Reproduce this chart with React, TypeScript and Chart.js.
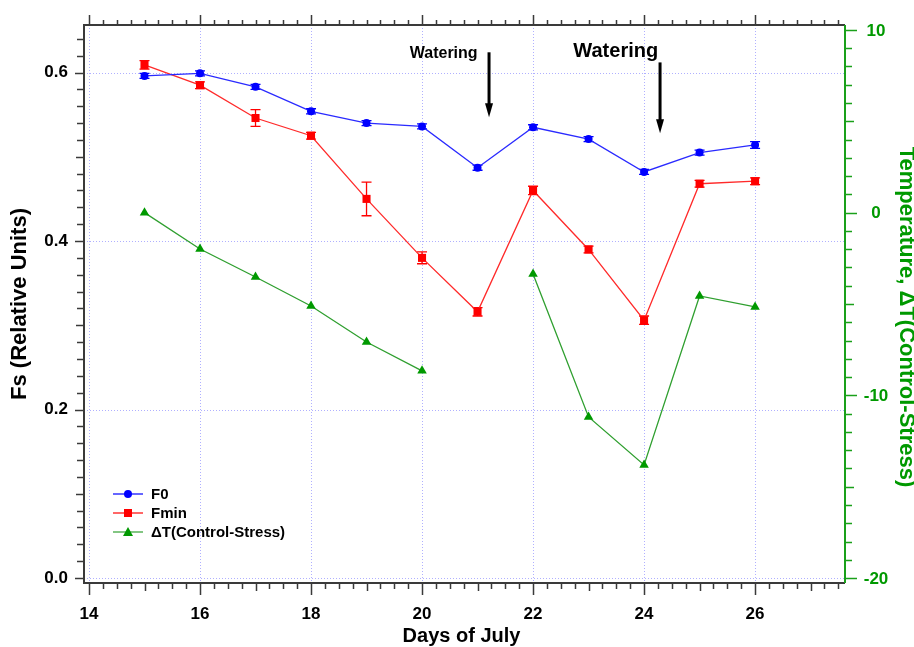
import React, { useEffect, useRef } from "react";
import { Chart, registerables } from "chart.js";

Chart.register(...registerables);

// ---- data ----
const days = [15, 16, 17, 18, 19, 20, 21, 22, 23, 24, 25, 26];
const f0Values = [0.596, 0.599, 0.583, 0.554, 0.54, 0.536, 0.487, 0.535, 0.521, 0.482, 0.505, 0.514];
const f0Errors = [0.003, 0.003, 0.003, 0.003, 0.003, 0.003, 0.003, 0.003, 0.003, 0.003, 0.003, 0.004];
const fminValues = [0.609, 0.585, 0.546, 0.525, 0.45, 0.38, 0.316, 0.46, 0.39, 0.306, 0.468, 0.471];
const fminErrors = [0.005, 0.004, 0.01, 0.004, 0.02, 0.007, 0.005, 0.005, 0.004, 0.005, 0.004, 0.004];
const deltaTValues: (number | null)[] = [0.0, -1.99, -3.52, -5.11, -7.08, -8.66, null, -3.36, -11.18, -13.81, -4.56, -5.16];

const xTickValues = [14, 16, 18, 20, 22, 24, 26];
const leftTickValues = [0.0, 0.2, 0.4, 0.6];
const rightTickValues = [-20, -10, 0, 10];

const xRange = [13.91, 27.62];
const leftRange = [-0.0059, 0.6564];
const rightRange = [-20.27, 10.27];

const xTitle = "Days of July";
const leftTitle = "Fs (Relative Units)";
const rightTitle = "Temperature, \u0394T(Control-Stress)";

// annotations (data coordinates: day, left-axis level)
const wateringTexts = ["Watering", "Watering"];
const wateringTextDays = [20.39, 23.49];
const wateringTextLevels = [0.617, 0.618];
const wateringArrowDays = [21.207, 24.288];
const wateringArrowTops = [0.624, 0.612];
const wateringArrowTips = [0.547, 0.528];

const legendLabels = ["F0", "Fmin", "\u0394T(Control-Stress)"];

const FONT = "'Liberation Sans', Arial, Helvetica, sans-serif";
const BLUE = "#0000ff";
const RED = "#ff0000";
const GREEN = "#009900";
const GREEN_LINE = "#2f9f2f";
const AXIS_GREEN = "#1aa01a";
const FRAME = "#3a3a3a";

function drawMarker(ctx: CanvasRenderingContext2D, style: string, x: number, y: number, color: string) {
  ctx.fillStyle = color;
  ctx.beginPath();
  if (style === "circle") {
    ctx.arc(x, y, 4, 0, Math.PI * 2);
  } else if (style === "rect") {
    ctx.rect(x - 4, y - 4, 8, 8);
  } else {
    ctx.moveTo(x, y - 5);
    ctx.lineTo(x + 5, y + 4);
    ctx.lineTo(x - 5, y + 4);
    ctx.closePath();
  }
  ctx.fill();
}

const noPad = (s: any) => {
  s.paddingTop = 0;
  s.paddingBottom = 0;
  s.paddingLeft = 0;
  s.paddingRight = 0;
};

const decorPlugin = {
  id: "decor",
  beforeDatasetsDraw(chart: any) {
    const { ctx, chartArea: a, scales } = chart;
    ctx.save();
    // grid
    ctx.strokeStyle = "rgba(150,150,255,0.75)";
    ctx.lineWidth = 1;
    ctx.setLineDash([1, 2]);
    xTickValues.forEach((v) => {
      const px = Math.round(scales.x.getPixelForValue(v)) + 0.5;
      ctx.beginPath();
      ctx.moveTo(px, a.top);
      ctx.lineTo(px, a.bottom);
      ctx.stroke();
    });
    leftTickValues.forEach((v) => {
      const py = Math.round(scales.y.getPixelForValue(v)) + 0.5;
      ctx.beginPath();
      ctx.moveTo(a.left, py);
      ctx.lineTo(a.right, py);
      ctx.stroke();
    });
    ctx.setLineDash([]);
    // error bars
    const drawErr = (vals: number[], errs: number[], color: string) => {
      ctx.strokeStyle = color;
      ctx.lineWidth = 1.3;
      vals.forEach((v, i) => {
        const px = scales.x.getPixelForValue(days[i]);
        const p1 = scales.y.getPixelForValue(v - errs[i]);
        const p2 = scales.y.getPixelForValue(v + errs[i]);
        ctx.beginPath();
        ctx.moveTo(px, p1);
        ctx.lineTo(px, p2);
        ctx.moveTo(px - 5, p1);
        ctx.lineTo(px + 5, p1);
        ctx.moveTo(px - 5, p2);
        ctx.lineTo(px + 5, p2);
        ctx.stroke();
      });
    };
    drawErr(f0Values, f0Errors, BLUE);
    drawErr(fminValues, fminErrors, RED);
    ctx.restore();
  },
  afterDraw(chart: any) {
    const { ctx, chartArea: a, scales } = chart;
    const sx = scales.x, sy = scales.y, sy2 = scales.y2;
    ctx.save();
    // ticks bottom/top
    ctx.lineWidth = 1.5;
    ctx.strokeStyle = FRAME;
    for (let k = Math.ceil(xRange[0] * 4); k <= Math.floor(xRange[1] * 4); k++) {
      const px = Math.round(sx.getPixelForValue(k / 4)) + 0.5;
      const len = k % 8 === 0 ? 12 : k % 4 === 0 ? 8 : 6;
      const lenTop = k % 8 === 0 ? 10 : 5;
      ctx.beginPath();
      ctx.moveTo(px, a.bottom);
      ctx.lineTo(px, a.bottom + len);
      ctx.moveTo(px, a.top);
      ctx.lineTo(px, a.top - lenTop);
      ctx.stroke();
    }
    // left ticks
    for (let k = Math.ceil(leftRange[0] * 50); k <= Math.floor(leftRange[1] * 50); k++) {
      const py = Math.round(sy.getPixelForValue(k / 50)) + 0.5;
      const len = k % 10 === 0 ? 9 : k % 5 === 0 ? 8 : 7;
      ctx.beginPath();
      ctx.moveTo(a.left, py);
      ctx.lineTo(a.left - len, py);
      ctx.stroke();
    }
    // frame
    ctx.lineWidth = 2;
    ctx.beginPath();
    ctx.moveTo(a.right, a.top);
    ctx.lineTo(a.left, a.top);
    ctx.lineTo(a.left, a.bottom);
    ctx.lineTo(a.right, a.bottom);
    ctx.stroke();
    // right axis (green)
    ctx.strokeStyle = AXIS_GREEN;
    ctx.beginPath();
    ctx.moveTo(a.right, a.top);
    ctx.lineTo(a.right, a.bottom);
    ctx.stroke();
    ctx.lineWidth = 1.5;
    for (let k = Math.ceil(rightRange[0]); k <= Math.floor(rightRange[1]); k++) {
      const py = Math.round(sy2.getPixelForValue(k)) + 0.5;
      const len = k % 10 === 0 ? 12 : k % 5 === 0 ? 9 : 7;
      ctx.beginPath();
      ctx.moveTo(a.right, py);
      ctx.lineTo(a.right + len, py);
      ctx.stroke();
    }
    // right tick labels (centered column)
    ctx.fillStyle = GREEN;
    ctx.font = `bold 17px ${FONT}`;
    ctx.textAlign = "center";
    ctx.textBaseline = "middle";
    rightTickValues.forEach((v) => {
      ctx.fillText(String(v), a.right + 31, sy2.getPixelForValue(v) + 1);
    });
    // axis titles
    const mid = (a.top + a.bottom) / 2;
    ctx.fillStyle = "#000";
    ctx.font = `bold 22px ${FONT}`;
    ctx.save();
    ctx.translate(20, mid);
    ctx.rotate(-Math.PI / 2);
    ctx.fillText(leftTitle, 0, 0);
    ctx.restore();
    ctx.fillStyle = GREEN;
    ctx.save();
    ctx.translate(906, mid + 13);
    ctx.rotate(Math.PI / 2);
    ctx.fillText(rightTitle, 0, 0);
    ctx.restore();
    ctx.fillStyle = "#000";
    ctx.font = `bold 20px ${FONT}`;
    ctx.fillText(xTitle, (a.left + a.right) / 2 - 3, 636);
    // annotations
    ctx.fillStyle = "#000";
    ctx.strokeStyle = "#000";
    ctx.textAlign = "center";
    ctx.textBaseline = "alphabetic";
    wateringTexts.forEach((t, i) => {
      ctx.font = `bold ${i === 0 ? 16 : 20}px ${FONT}`;
      ctx.fillText(t, sx.getPixelForValue(wateringTextDays[i]), sy.getPixelForValue(wateringTextLevels[i]));
      const ax = sx.getPixelForValue(wateringArrowDays[i]);
      const top = sy.getPixelForValue(wateringArrowTops[i]);
      const tip = sy.getPixelForValue(wateringArrowTips[i]);
      ctx.lineWidth = 3;
      ctx.beginPath();
      ctx.moveTo(ax, top);
      ctx.lineTo(ax, tip - 12);
      ctx.stroke();
      ctx.beginPath();
      ctx.moveTo(ax - 4, tip - 14);
      ctx.lineTo(ax + 4, tip - 14);
      ctx.lineTo(ax, tip);
      ctx.closePath();
      ctx.fill();
    });
    // legend
    const styles = ["circle", "rect", "triangle"];
    const lineColors = [BLUE, RED, GREEN_LINE];
    const markColors = [BLUE, RED, GREEN];
    ctx.font = `bold 15px ${FONT}`;
    ctx.textAlign = "left";
    ctx.textBaseline = "middle";
    legendLabels.forEach((lab, i) => {
      const y = a.bottom - 89 + i * 19;
      const x0 = a.left + 29;
      ctx.strokeStyle = lineColors[i];
      ctx.lineWidth = 1.2;
      ctx.beginPath();
      ctx.moveTo(x0, y);
      ctx.lineTo(x0 + 30, y);
      ctx.stroke();
      drawMarker(ctx, styles[i], x0 + 15, y, markColors[i]);
      ctx.fillStyle = "#000";
      ctx.fillText(lab, x0 + 38, y + 1);
    });
    ctx.restore();
  },
};

export default function App() {
  const ref = useRef<HTMLCanvasElement | null>(null);
  useEffect(() => {
    document.body.style.margin = "0";
    const canvas = ref.current;
    if (!canvas) return;
    const tickFont = { family: FONT, size: 17, weight: "bold" as const };
    const chart = new Chart(canvas, {
      type: "line",
      data: {
        datasets: [
          {
            label: "F0",
            data: days.map((d, i) => ({ x: d, y: f0Values[i] })),
            yAxisID: "y",
            borderColor: "#2a2aff",
            backgroundColor: BLUE,
            borderWidth: 1.3,
            pointStyle: "circle",
            pointRadius: 4,
            pointBorderWidth: 0,
          },
          {
            label: "Fmin",
            data: days.map((d, i) => ({ x: d, y: fminValues[i] })),
            yAxisID: "y",
            borderColor: "#ff2a2a",
            backgroundColor: RED,
            borderWidth: 1.3,
            pointStyle: "rect",
            pointRadius: 5.7,
            pointBorderWidth: 0,
          },
          {
            label: "\u0394T(Control-Stress)",
            data: days.map((d, i) => ({ x: d, y: deltaTValues[i] })),
            yAxisID: "y2",
            borderColor: GREEN_LINE,
            backgroundColor: GREEN,
            borderWidth: 1.3,
            pointStyle: "triangle",
            pointRadius: 5.5,
            pointBorderWidth: 0,
            spanGaps: false,
          },
        ],
      },
      options: {
        responsive: false,
        animation: false,
        layout: { padding: { top: 25, left: 0, right: 0, bottom: 0 } },
        plugins: { legend: { display: false }, tooltip: { enabled: false } },
        scales: {
          x: {
            type: "linear",
            min: xRange[0],
            max: xRange[1],
            afterBuildTicks: (s: any) => {
              s.ticks = xTickValues.map((v) => ({ value: v }));
            },
            afterFit: (s: any) => {
              s.height = 64;
              noPad(s);
            },
            grid: { display: false, drawTicks: false },
            border: { display: false },
            ticks: { padding: 21, color: "#000", font: tickFont, maxRotation: 0, autoSkip: false },
            title: { display: false },
          },
          y: {
            type: "linear",
            position: "left",
            min: leftRange[0],
            max: leftRange[1],
            afterBuildTicks: (s: any) => {
              s.ticks = leftTickValues.map((v) => ({ value: v }));
            },
            afterFit: (s: any) => {
              s.width = 84;
              noPad(s);
            },
            grid: { display: false, drawTicks: false },
            border: { display: false },
            ticks: { padding: 16, color: "#000", font: tickFont, callback: (v: any) => Number(v).toFixed(1) },
            title: { display: false },
          },
          y2: {
            type: "linear",
            position: "right",
            min: rightRange[0],
            max: rightRange[1],
            afterBuildTicks: (s: any) => {
              s.ticks = rightTickValues.map((v) => ({ value: v }));
            },
            afterFit: (s: any) => {
              s.width = 69;
              noPad(s);
            },
            grid: { display: false, drawTicks: false },
            border: { display: false },
            ticks: { display: false },
            title: { display: false },
          },
        },
      },
      plugins: [decorPlugin],
    } as any);
    return () => chart.destroy();
  }, []);
  return (
    <div style={{ position: "absolute", left: 0, top: 0, width: 914, height: 647, background: "#fff" }}>
      <canvas ref={ref} width={914} height={647} style={{ display: "block" }} />
    </div>
  );
}
